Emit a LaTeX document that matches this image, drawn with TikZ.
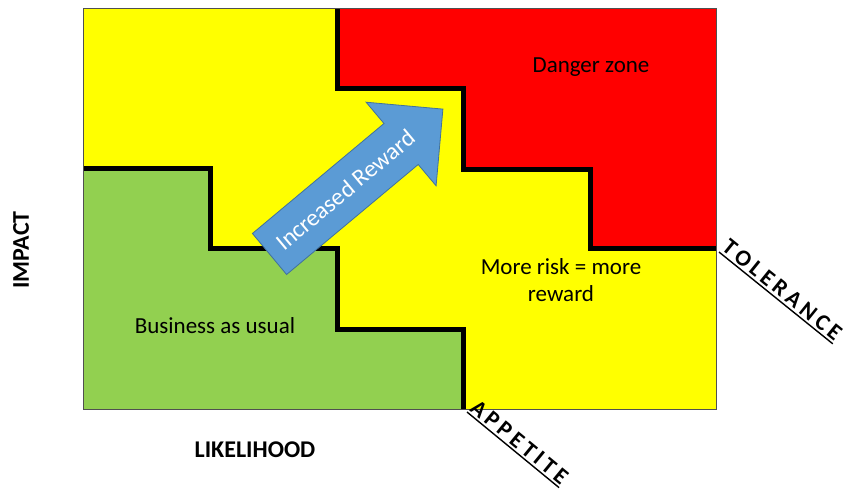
\documentclass[tikz,border=0pt]{standalone}
\usepackage{fontspec}
\setmainfont{Carlito}
\newfontfamily\spacedfont[LetterSpace=18]{Carlito}
\definecolor{zoneyellow}{HTML}{FFFF00}
\definecolor{zonered}{HTML}{FF0000}
\definecolor{zonegreen}{HTML}{92D050}
\definecolor{arrowblue}{HTML}{5B9BD5}
\definecolor{arrowedge}{HTML}{41719C}
\definecolor{frame}{HTML}{505050}
\begin{document}
\begin{tikzpicture}[x=1pt,y=-1pt,
  zonelabel/.style={font=\fontsize{23}{27.6}\selectfont, text=black, inner sep=0pt, align=center},
  axislabel/.style={font=\bfseries\fontsize{24}{28}\selectfont, inner sep=0pt},
  limitlabel/.style={font=\spacedfont\bfseries\fontsize{23}{27}\selectfont, inner xsep=0pt, inner ysep=2.5pt, anchor=south west},
  boundary/.style={line width=5pt, line join=miter},
  underline/.style={line width=1.4pt}
]
\useasboundingbox (0,0) rectangle (846,493);

% zones of the 5x5 grid
\fill[zoneyellow] (83,8) rectangle (716,409);
\fill[zonered] (337,8) -- (337,88) -- (463,88) -- (463,169) -- (590,169) -- (590,248) -- (716,248) -- (716,8) -- cycle;
\fill[zonegreen] (83,168) -- (210,168) -- (210,248) -- (337,248) -- (337,329) -- (463,329) -- (463,409) -- (83,409) -- cycle;

% stepped boundaries
\draw[boundary] (337,8) -- (337,88) -- (463,88) -- (463,169) -- (590,169) -- (590,248) -- (716,248);
\draw[boundary] (83,168) -- (210,168) -- (210,248) -- (337,248) -- (337,329) -- (463,329) -- (463,409);

% outer frame
\draw[frame, line width=1pt] (83,8) rectangle (716,409);

% diagonal arrow
\filldraw[fill=arrowblue, draw=arrowedge, line width=0.8pt, line join=miter]
  (252.4,233.5) -- (384.0,123.5) -- (366.1,102.2) -- (442.9,109.1)
  -- (436.1,185.8) -- (418.2,164.5) -- (286.6,274.5) -- cycle;
\node[zonelabel, text=white, rotate=39.9, font=\fontsize{24}{28}\selectfont] (reward) at (345.5,190) {Increased Reward};

% zone labels
\node[zonelabel] (danger) at (591,67) {Danger zone};
\node[zonelabel] (more) at (561,280) {More risk = more\\reward};
\node[zonelabel] (bau) at (215,326) {Business as usual};

% axis labels
\node[axislabel, rotate=90] (impact) at (21,250) {IMPACT};
\node[axislabel] (likelihood) at (255,450) {LIKELIHOOD};

% limit labels
\node[limitlabel, rotate=-38.9] (tol) at (719,252) {TOLERANCE};
\draw[underline] (tol.south west) -- (tol.south east);
\node[limitlabel, rotate=-39.4] (app) at (467,412) {APPETITE};
\draw[underline] (app.south west) -- (app.south east);
\end{tikzpicture}
\end{document}
